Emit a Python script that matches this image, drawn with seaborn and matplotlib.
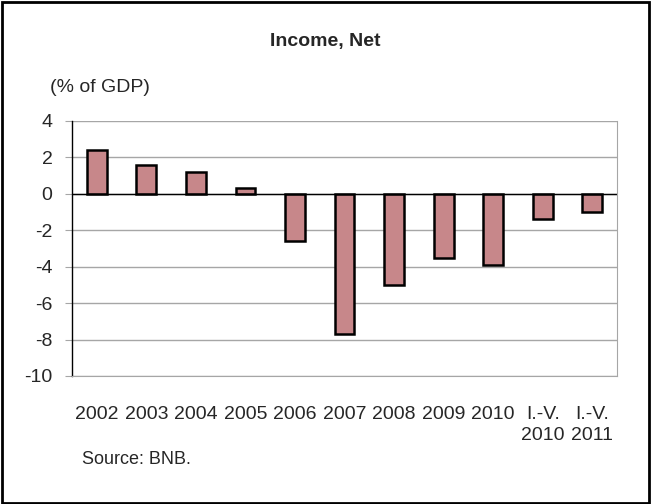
import pandas as pd
import matplotlib.pyplot as plt
import seaborn as sns
from matplotlib.patches import Rectangle

# Net income, % of GDP
periods = ["2002", "2003", "2004", "2005", "2006", "2007", "2008", "2009", "2010",
           "I.-V.\n2010", "I.-V.\n2011"]
net_income = [2.4, 1.6, 1.2, 0.3, -2.6, -7.7, -5.0, -3.5, -3.9, -1.4, -1.0]
y_ticks = [4, 2, 0, -2, -4, -6, -8, -10]

df = pd.DataFrame({"Period": periods, "NetIncome": net_income})

sns.set_style("white")
plt.rcParams["font.family"] = ["Liberation Sans", "DejaVu Sans"]
plt.rcParams["axes.unicode_minus"] = False

fig = plt.figure(figsize=(6.51, 5.04), dpi=100)
ax = fig.add_axes([0.1106, 0.254, 0.8372, 0.506])

sns.barplot(x="Period", y="NetIncome", data=df, color="#c7878a",
            edgecolor="black", linewidth=1.8, width=0.4, saturation=1, ax=ax)

ax.set_ylim(-10, 4)
ax.set_yticks(y_ticks)
ax.yaxis.grid(True, color="#a6a6a6", linewidth=1)
ax.set_axisbelow(True)
ax.axhline(0, color="black", linewidth=1)

for side in ["top", "bottom", "right"]:
    ax.spines[side].set_color("#a6a6a6")
ax.spines["top"].set_visible(False)
ax.spines["left"].set_color("black")
ax.spines["left"].set_linewidth(1)

ax.set_xlabel("")
ax.set_ylabel("")
ax.tick_params(axis="y", left=True, length=5, color="#a6a6a6", pad=9, labelsize=14)
ax.tick_params(axis="x", bottom=False, pad=18, labelsize=14)
for lbl in ax.get_xticklabels():
    lbl.set_linespacing(1.3)
    lbl.set_verticalalignment("top")

fig.text(0.5, 0.917, "Income, Net", ha="center", va="center", fontsize=14, fontweight="bold")
fig.text(0.077, 0.827, "(% of GDP)", ha="left", va="center", fontsize=14)
fig.text(0.126, 0.089, "Source: BNB.", ha="left", va="center", fontsize=13)

fig.patches.append(Rectangle((0.003, 0.002), 0.994, 0.994, transform=fig.transFigure,
                             fill=False, edgecolor="black", linewidth=2))

plt.savefig("out.png", dpi=100)
